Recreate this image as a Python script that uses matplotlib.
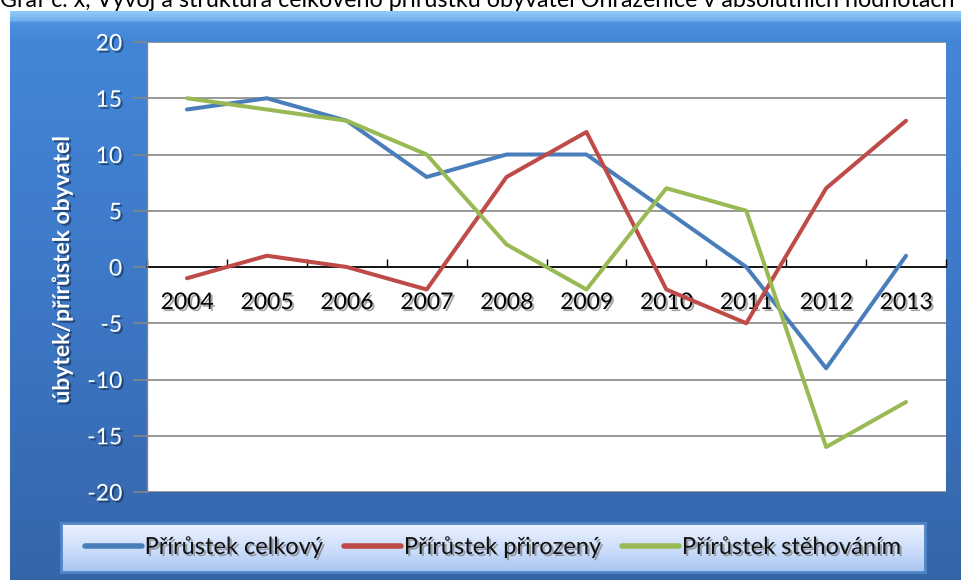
import numpy as np
import matplotlib
matplotlib.use("Agg")
import matplotlib.pyplot as plt
import matplotlib.patheffects as pe
from matplotlib.colors import LinearSegmentedColormap

years = ["2004", "2005", "2006", "2007", "2008", "2009", "2010", "2011", "2012", "2013"]
celkovy = [14, 15, 13, 8, 10, 10, 5, 0, -9, 1]
prirozeny = [-1, 1, 0, -2, 8, 12, -2, -5, 7, 13]
stehovanim = [15, 14, 13, 10, 2, -2, 7, 5, -16, -12]
series_names = ["Přírůstek celkový", "Přírůstek přirozený", "Přírůstek stěhováním"]
series_colors = ["#4A7EBB", "#BE4B48", "#98B954"]
yticks = [-20, -15, -10, -5, 0, 5, 10, 15, 20]
title = "Graf č. x, Vývoj a struktura celkového přírůstku obyvatel Ohrazenice v absolutních hodnotách"
ylabel = "úbytek/přírůstek obyvatel"

plt.rcParams['font.family'] = ['Lato', 'DejaVu Sans']
plt.rcParams['axes.unicode_minus'] = False

W, H = 962, 580
fig = plt.figure(figsize=(W / 100, H / 100), dpi=100)
fig.patch.set_facecolor("white")

def fx(px):
    return px / W

def fy(py):
    return 1 - py / H

# blue frame background
bg = fig.add_axes([fx(10), 0, 1 - fx(10), fy(11)])
bg.set_axis_off()
cmap = LinearSegmentedColormap.from_list("frame", [
    (0.0, "#8cc8f8"), (0.012, "#74b2ee"), (0.02, "#4a8fe0"), (0.05, "#4386d7"),
    (0.5, "#3d78c6"), (1.0, "#3565a9")])
grad = np.linspace(0, 1, 400).reshape(-1, 1)
bg.imshow(grad, aspect="auto", cmap=cmap, extent=[0, 1, 0, 1], origin="upper")
bg.set_xlim(0, 1)
bg.set_ylim(0, 1)

# title (top is cut off, as in the reference)
t = fig.text(0.0, fy(7), title, fontsize=15, color="black", va="baseline", ha="left")
fig.canvas.draw()
r = fig.canvas.get_renderer()
wbb = t.get_window_extent(r).width
t.set_fontsize(15 * 955 / wbb)

# plot area
ax = fig.add_axes([fx(147), fy(492), fx(946) - fx(147), fy(42) - fy(492)])
ax.set_facecolor("white")
x = np.arange(len(years))
for vals, name, col in zip([celkovy, prirozeny, stehovanim], series_names, series_colors):
    ax.plot(x, vals, color=col, lw=2.9, label=name, solid_capstyle="round", zorder=3)

ax.set_xlim(-0.5, len(years) - 0.5)
ax.set_ylim(-20, 20)
ax.set_yticks(yticks)
ax.yaxis.grid(True, color="#868686", lw=1.2)
ax.set_axisbelow(True)
for s in ["top", "right"]:
    ax.spines[s].set_visible(False)
ax.spines["left"].set_color("#868686")
ax.spines["left"].set_linewidth(1.0)
ax.spines["bottom"].set_position(("data", 0))
ax.spines["bottom"].set_color("black")
ax.spines["bottom"].set_linewidth(1.2)
ax.spines["bottom"].set_zorder(2)

ax.set_xticks(x)
ax.set_xticklabels(years)
ax.set_xticks(np.arange(-0.5, len(years), 1), minor=True)
ax.tick_params(axis="x", which="major", length=0, pad=18, labelsize=16.5, labelcolor="black")
ax.tick_params(axis="x", which="minor", length=6, width=1.0, direction="in", color="black")
ax.tick_params(axis="y", length=10, width=1.2, color="#868686", labelsize=16.5, labelcolor="white", pad=8)

xshadow = [pe.SimplePatchShadow(offset=(1.5, -1.5), shadow_rgbFace="#7f7f7f", alpha=0.7), pe.Normal()]
yshadow = [pe.SimplePatchShadow(offset=(1.5, -1.5), shadow_rgbFace="#10284a", alpha=0.6), pe.Normal()]
for lab in ax.get_xticklabels():
    lab.set_path_effects(xshadow)
for lab in ax.get_yticklabels():
    lab.set_path_effects(yshadow)

fig.text(fx(62), fy(270), ylabel, rotation=90, fontsize=16.5, fontweight="bold", color="white",
         ha="center", va="center", path_effects=yshadow)

# legend box with gradient
lx0, lx1, ly0, ly1 = 61, 925, 523, 572
lg = fig.add_axes([fx(lx0), fy(ly1), fx(lx1) - fx(lx0), fy(ly0) - fy(ly1)])
lg.set_xlim(0, 1)
lg.set_ylim(0, 1)
lcmap = LinearSegmentedColormap.from_list("leg", ["#eaf2fe", "#cfe0fb", "#a9c6f4"])
lg.imshow(grad, aspect="auto", cmap=lcmap, extent=[0, 1, 0, 1], origin="upper")
for s in lg.spines.values():
    s.set_color("#4f86c6")
    s.set_linewidth(2)
lg.set_xticks([])
lg.set_yticks([])

handles, labels = ax.get_legend_handles_labels()
leg = lg.legend(handles, labels, loc="center", ncol=3, frameon=False, fontsize=17,
                handlelength=2.4, handletextpad=0.12, columnspacing=0.9, borderaxespad=0)
for line in leg.get_lines():
    line.set_linewidth(4)
for txt in leg.get_texts():
    txt.set_color("#111111")
    txt.set_path_effects(xshadow)

fig.savefig("out.png", dpi=100, facecolor="white")
